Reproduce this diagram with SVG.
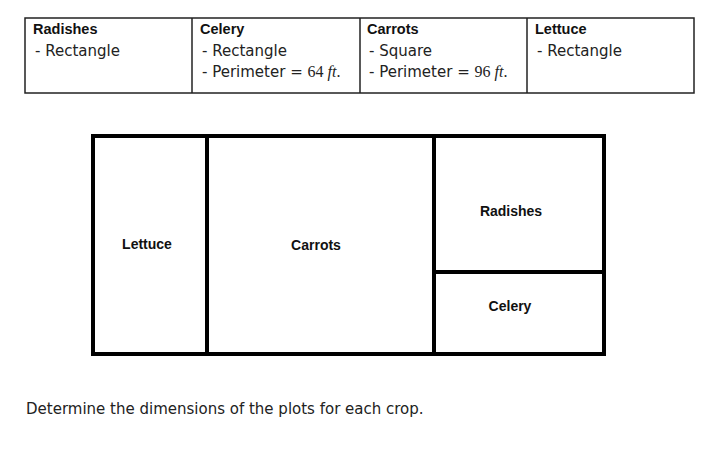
<svg xmlns="http://www.w3.org/2000/svg" width="720" height="463" viewBox="0 0 720 463">
<style>
.t{font-family:"DejaVu Sans","Liberation Sans",sans-serif;font-size:15px;fill:#222}
.b{font-family:"Liberation Sans","DejaVu Sans",sans-serif;font-size:14.5px;font-weight:bold;fill:#111}
.m{font-family:"Liberation Serif","DejaVu Serif",serif;font-size:16px}
.tbl{fill:none;stroke:#222;stroke-width:1.5}
.plot{fill:none;stroke:#000;stroke-width:4}
.lbl{font-family:"Liberation Sans","DejaVu Sans",sans-serif;font-size:14px;font-weight:bold;fill:#111;text-anchor:middle}
</style>
<rect width="720" height="463" fill="#fff"/>
<g id="table">
<rect class="tbl" x="25" y="18" width="669" height="75"/>
<line class="tbl" x1="192" y1="18" x2="192" y2="93"/>
<line class="tbl" x1="360" y1="18" x2="360" y2="93"/>
<line class="tbl" x1="527" y1="18" x2="527" y2="93"/>
<text class="b" x="33" y="34">Radishes</text>
<text class="t" x="35" y="56">- Rectangle</text>
<text class="b" x="200" y="34">Celery</text>
<text class="t" x="202" y="56">- Rectangle</text>
<text class="t" x="202" y="77">- Perimeter = <tspan class="m">64 <tspan font-style="italic">ft</tspan>.</tspan></text>
<text class="b" x="367" y="34">Carrots</text>
<text class="t" x="369" y="56">- Square</text>
<text class="t" x="369" y="77">- Perimeter = <tspan class="m">96 <tspan font-style="italic">ft</tspan>.</tspan></text>
<text class="b" x="535" y="34">Lettuce</text>
<text class="t" x="537" y="56">- Rectangle</text>
</g>
<g id="plot-outline">
<rect class="plot" x="93" y="136" width="511" height="218"/>
</g>
<g id="connectors">
<line class="plot" x1="207" y1="136" x2="207" y2="354"/>
<line class="plot" x1="434" y1="136" x2="434" y2="354"/>
<line class="plot" x1="434" y1="272" x2="604" y2="272"/>
</g>
<g id="lettuce"><text class="lbl" x="147" y="249">Lettuce</text></g>
<g id="carrots"><text class="lbl" x="316" y="250">Carrots</text></g>
<g id="radishes"><text class="lbl" x="511" y="216">Radishes</text></g>
<g id="celery"><text class="lbl" x="510" y="311">Celery</text></g>
<text class="t" x="26" y="414" font-size="15.2">Determine the dimensions of the plots for each crop.</text>
</svg>
